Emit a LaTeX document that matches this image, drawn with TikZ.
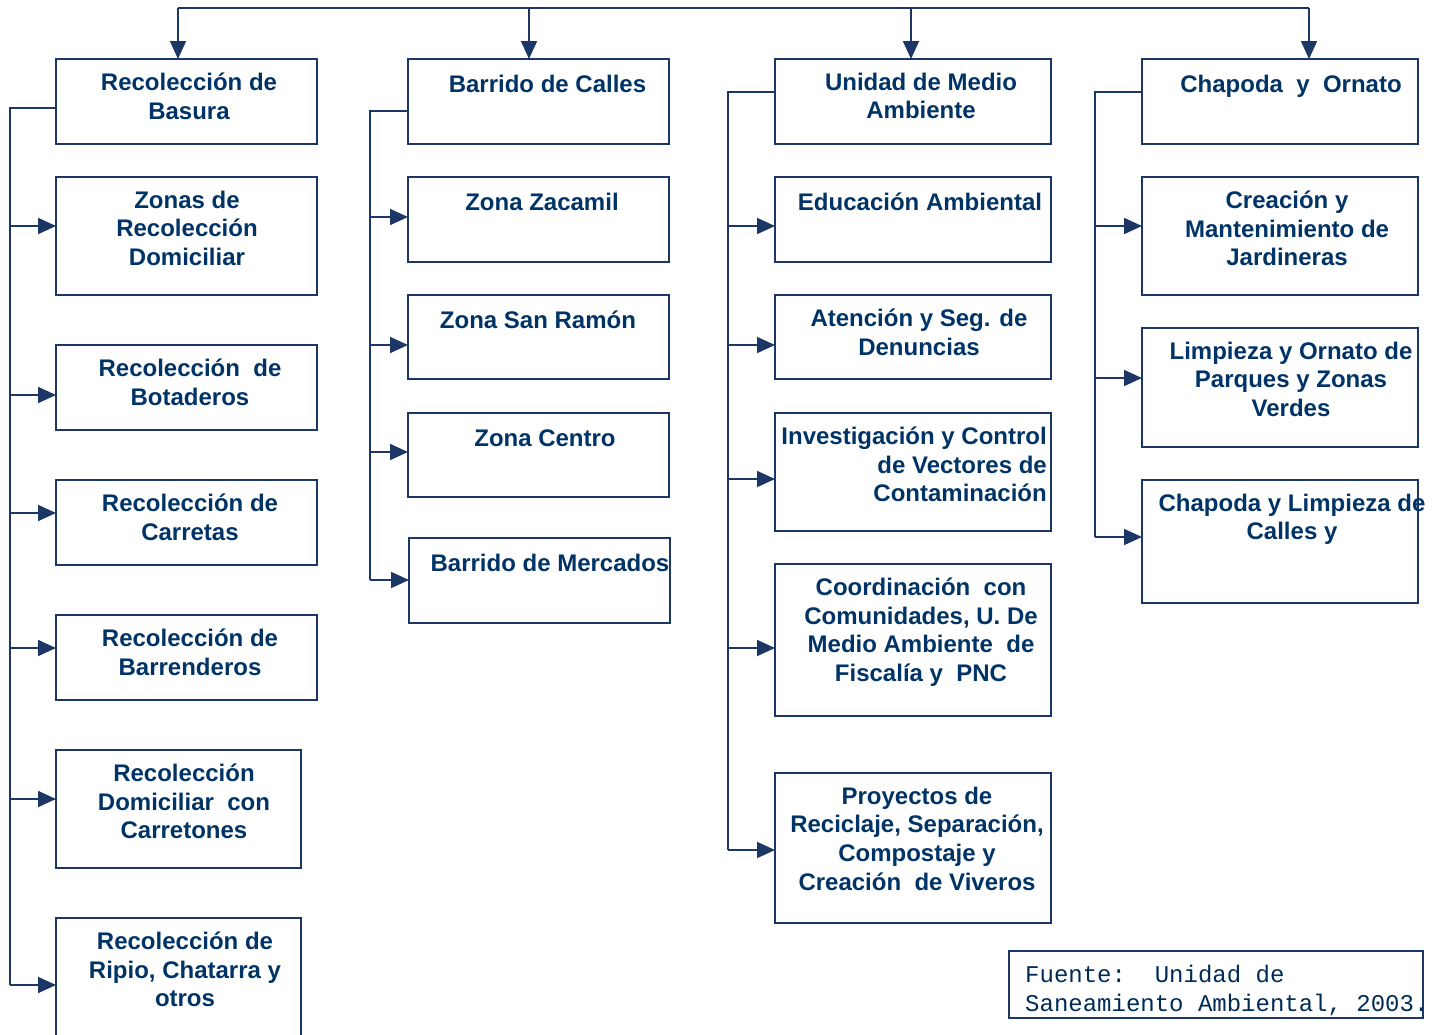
\documentclass[tikz,border=0pt]{standalone}
\usepackage{fontspec}
\setmainfont{Liberation Sans}
\newfontfamily\monof{Liberation Mono}
\usetikzlibrary{arrows.meta}
\definecolor{navy}{RGB}{0,51,102}
\definecolor{edge}{RGB}{28,55,102}
\tikzset{
  box/.style={draw=edge, line width=1.8pt, inner sep=0pt},
  lbl/.style={text=navy, font=\fontsize{24}{28.7}\selectfont\bfseries, align=center, anchor=north, inner sep=0pt, execute at begin node=\strut},
  conn/.style={draw=edge, line width=1.8pt},
  arr/.style={conn, -{Triangle[length=18pt,width=16pt]}, shorten >=-1pt},
}
\begin{document}
\begin{tikzpicture}[x=1pt,y=-1pt]
\useasboundingbox (0,0) rectangle (1445,1034);
% ---------- column 1 ----------
\node[box, minimum width=261pt, minimum height=85pt, anchor=north west] (a0) at (55,58) {};
\node[box, minimum width=261pt, minimum height=118pt, anchor=north west] (a1) at (55,176) {};
\node[box, minimum width=261pt, minimum height=85pt, anchor=north west] (a2) at (55,344) {};
\node[box, minimum width=261pt, minimum height=85pt, anchor=north west] (a3) at (55,479) {};
\node[box, minimum width=261pt, minimum height=85pt, anchor=north west] (a4) at (55,614) {};
\node[box, minimum width=245pt, minimum height=118pt, anchor=north west] (a5) at (55,749) {};
\node[box, minimum width=245pt, minimum height=130pt, anchor=north west] (a6) at (55,917) {};
\node[lbl] (ta0) at (189,72.5) {Recolección de\\Basura};
\node[lbl] (ta1) at (187,190.5) {Zonas de\\Recolección\\Domiciliar};
\node[lbl] (ta2) at (190,358.5) {Recolección\; de\\Botaderos};
\node[lbl] (ta3) at (190,493.5) {Recolección de\\Carretas};
\node[lbl] (ta4) at (190,628.5) {Recolección de\\Barrenderos};
\node[lbl] (ta5) at (184,763.5) {Recolección\\Domiciliar\; con\\Carretones};
\node[lbl] (ta6) at (185,931.5) {Recolección de\\Ripio, Chatarra y\\otros};
% ---------- column 2 ----------
\node[box, minimum width=261pt, minimum height=85pt, anchor=north west] (b0) at (407,58) {};
\node[box, minimum width=261pt, minimum height=85pt, anchor=north west] (b1) at (407,176) {};
\node[box, minimum width=261pt, minimum height=84pt, anchor=north west] (b2) at (407,294) {};
\node[box, minimum width=261pt, minimum height=84pt, anchor=north west] (b3) at (407,412) {};
\node[box, minimum width=261pt, minimum height=85pt, anchor=north west] (b4) at (408,537) {};
\node[lbl] (tb0) at (547.5,72.5) {Barrido de Calles};
\node[lbl] (tb1) at (542,190.5) {Zona Zacamil};
\node[lbl] (tb2) at (538,308.5) {Zona San Ramón};
\node[lbl] (tb3) at (545,426.5) {Zona Centro};
\node[lbl] (tb4) at (550,551.5) {Barrido de Mercados};
% ---------- column 3 ----------
\node[box, minimum width=276pt, minimum height=85pt, anchor=north west] (c0) at (774,58) {};
\node[box, minimum width=276pt, minimum height=85pt, anchor=north west] (c1) at (774,176) {};
\node[box, minimum width=276pt, minimum height=84pt, anchor=north west] (c2) at (774,294) {};
\node[box, minimum width=276pt, minimum height=118pt, anchor=north west] (c3) at (774,412) {};
\node[box, minimum width=276pt, minimum height=152pt, anchor=north west] (c4) at (774,563) {};
\node[box, minimum width=276pt, minimum height=150pt, anchor=north west] (c5) at (774,772) {};
\node[lbl] (tc0) at (921,72.5) {Unidad de Medio\\Ambiente};
\node[lbl] (tc1) at (920,190.5) {Educación Ambiental};
\node[lbl] (tc2) at (919,308.5) {Atención y Seg. de\\Denuncias};
\node[lbl, align=right, anchor=north east] (tc3) at (1047,426.5) {Investigación y Control\\de Vectores de\\Contaminación};
\node[lbl] (tc4) at (921,577.5) {Coordinación\; con\\Comunidades, U. De\\Medio Ambiente\; de\\Fiscalía y\; PNC};
\node[lbl] (tc5) at (917,786.5) {Proyectos de\\Reciclaje, Separación,\\Compostaje y\\Creación\; de Viveros};
% ---------- column 4 ----------
\node[box, minimum width=276pt, minimum height=85pt, anchor=north west] (d0) at (1141,58) {};
\node[box, minimum width=276pt, minimum height=118pt, anchor=north west] (d1) at (1141,176) {};
\node[box, minimum width=276pt, minimum height=119pt, anchor=north west] (d2) at (1141,327) {};
\node[box, minimum width=276pt, minimum height=123pt, anchor=north west] (d3) at (1141,479) {};
\node[lbl] (td0) at (1291,72.5) {Chapoda\; y\; Ornato};
\node[lbl] (td1) at (1287,190.5) {Creación y\\Mantenimiento de\\Jardineras};
\node[lbl] (td2) at (1291,341.5) {Limpieza y Ornato de\\Parques y Zonas\\Verdes};
\node[lbl] (td3) at (1292,493.5) {Chapoda y Limpieza de\\Calles y};
% ---------- source note ----------
\node[box, minimum width=414pt, minimum height=67pt, anchor=north west] (src) at (1008,950) {};
\node[text=navy!85!black, font=\monof\fontsize{24}{29}\selectfont, align=left, anchor=north west, inner sep=0pt, execute at begin node=\strut] (tsrc) at (1025,965) {Fuente:\ \ Unidad de\\Saneamiento Ambiental, 2003.};
% ---------- top distribution ----------
\coordinate (top1) at (178,8);
\coordinate (top4) at (1309,8);
\draw[conn] (top1) -- (top4);
\draw[arr] (top1) -- (top1 |- a0.north);
\draw[arr] (529,8) -- (529,58);
\draw[arr] (911,8) -- (911,58);
\draw[arr] (top4) -- (top4 |- d0.north);
% ---------- column 1 connectors ----------
\coordinate (ja) at (10,108);
\draw[conn] (a0.west |- ja) -- (ja) -- (10,985);
\foreach \n/\y in {a1/226, a2/395, a3/513, a4/648, a5/799, a6/985}
  \draw[arr] (10,\y) -- (\n.west |- 0,\y);
% ---------- column 2 connectors ----------
\coordinate (jb) at (370,111);
\draw[conn] (b0.west |- jb) -- (jb) -- (370,580);
\foreach \n/\y in {b1/217, b2/345, b3/452, b4/580}
  \draw[arr] (370,\y) -- (\n.west |- 0,\y);
% ---------- column 3 connectors ----------
\coordinate (jc) at (728,92);
\draw[conn] (c0.west |- jc) -- (jc) -- (728,850);
\foreach \n/\y in {c1/226, c2/345, c3/479, c4/648, c5/850}
  \draw[arr] (728,\y) -- (\n.west |- 0,\y);
% ---------- column 4 connectors ----------
\coordinate (jd) at (1095,92);
\draw[conn] (d0.west |- jd) -- (jd) -- (1095,537);
\foreach \n/\y in {d1/226, d2/378, d3/537}
  \draw[arr] (1095,\y) -- (\n.west |- 0,\y);
\end{tikzpicture}
\end{document}
